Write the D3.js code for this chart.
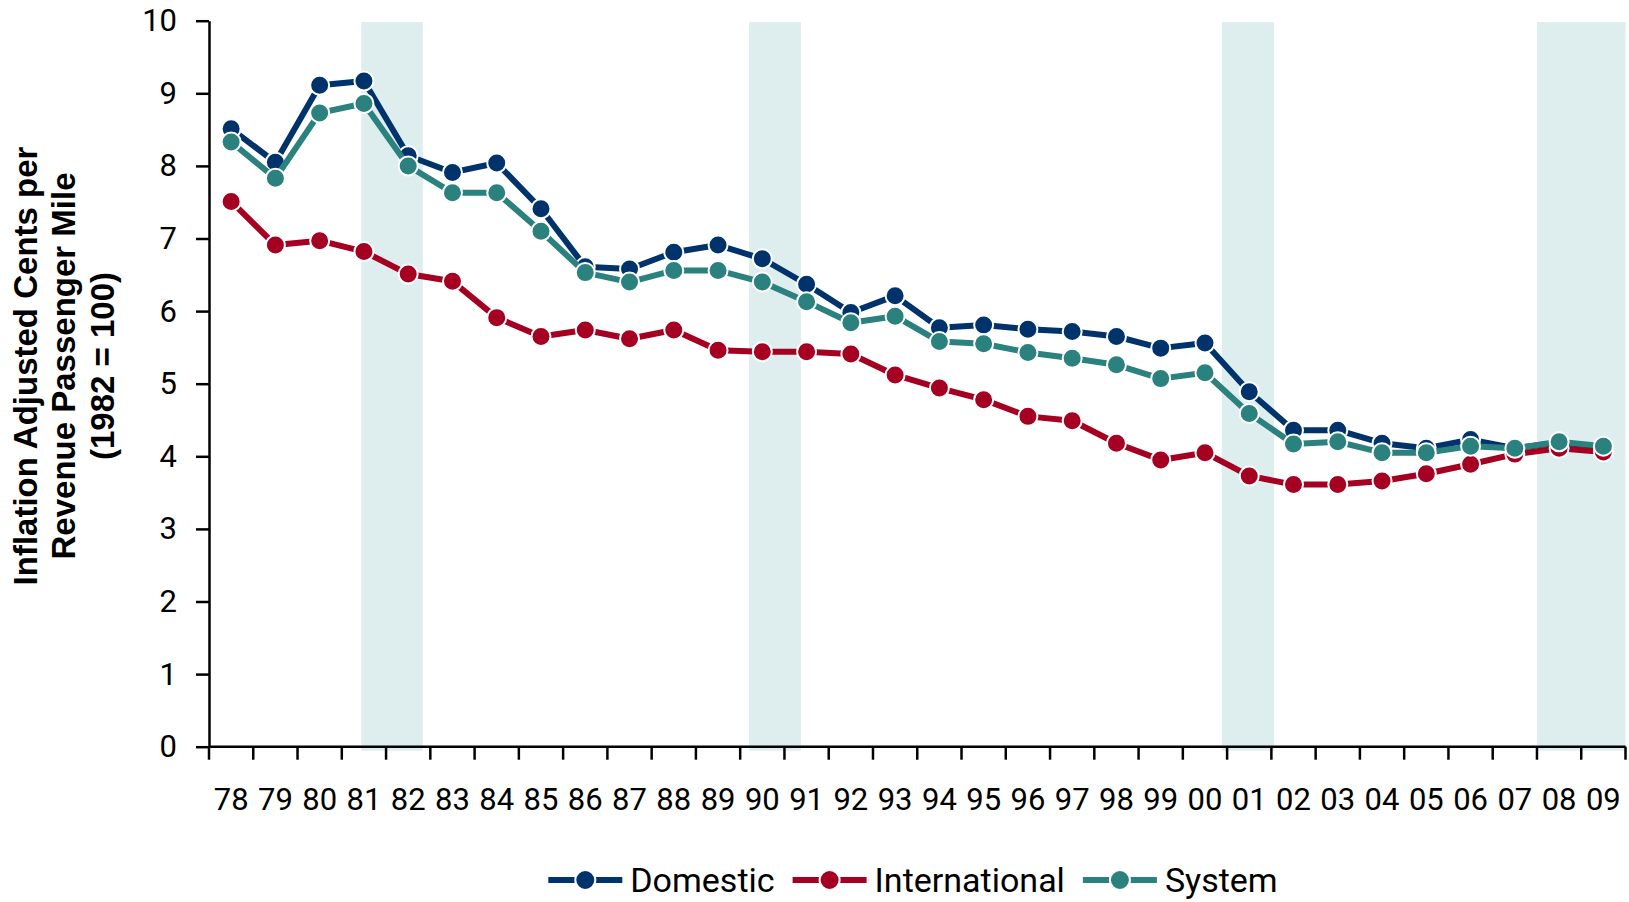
<!DOCTYPE html>
<html lang="en">
<head>
  <meta charset="UTF-8">
  <title>Inflation Adjusted Cents per Revenue Passenger Mile</title>
  <script src="https://d3js.org/d3.v7.min.js"></script>
  <style>
    body { margin: 0; background: #fff; }
    svg text { font-family: Roboto, "Noto Sans", sans-serif; fill: #000; }
  </style>
</head>
<body>
  <div id="chart"></div>
  <script>
    // two-digit year labels, 1978 .. 2009
    var years = ["78", "79", "80", "81", "82", "83", "84", "85", "86", "87", "88", "89",
                 "90", "91", "92", "93", "94", "95", "96", "97", "98", "99",
                 "00", "01", "02", "03", "04", "05", "06", "07", "08", "09"];

    var domestic = [8.51, 8.05, 9.11, 9.17, 8.14, 7.91, 8.04, 7.41, 6.61, 6.58, 6.81, 6.91,
                    6.72, 6.37, 5.98, 6.21, 5.77, 5.81, 5.75, 5.72, 5.65, 5.49,
                    5.56, 4.89, 4.36, 4.36, 4.18, 4.11, 4.23, 4.11, 4.19, 4.13];

    var international = [7.51, 6.91, 6.97, 6.82, 6.51, 6.41, 5.91, 5.65, 5.74, 5.62, 5.74, 5.46,
                         5.44, 5.44, 5.41, 5.12, 4.94, 4.78, 4.55, 4.49, 4.18, 3.95,
                         4.05, 3.73, 3.61, 3.61, 3.66, 3.76, 3.89, 4.03, 4.11, 4.06];

    var system = [8.33, 7.83, 8.73, 8.86, 8.00, 7.63, 7.63, 7.10, 6.53, 6.40, 6.56, 6.56,
                  6.40, 6.13, 5.84, 5.93, 5.58, 5.55, 5.43, 5.35, 5.26, 5.07,
                  5.15, 4.59, 4.17, 4.20, 4.05, 4.05, 4.14, 4.11, 4.20, 4.14];

    // shaded periods, in decimal years
    var recessions = [[1981.44, 1982.83], [1990.2, 1991.37], [2000.88, 2002.06], [2008, 2010]];

    var yTicks = [0, 1, 2, 3, 4, 5, 6, 7, 8, 9, 10];

    var series = [
      { name: "Domestic", values: domestic, color: "#00336b" },
      { name: "International", values: international, color: "#a50021" },
      { name: "System", values: system, color: "#2a817d" }
    ];

    var W = 1629, H = 902;
    var plotLeft = 209, plotRight = 1625.5, plotTop = 20.7, plotBottom = 746.7;

    var svg = d3.select("#chart").append("svg")
      .attr("width", W).attr("height", H);

    var x = d3.scaleBand().domain(years).range([plotLeft, plotRight]).padding(0);
    var xYear = d3.scaleLinear().domain([1978, 2010]).range([plotLeft, plotRight]);
    var y = d3.scaleLinear().domain([0, 10]).range([plotBottom, plotTop]);

    // recession bands
    svg.selectAll("rect.band")
      .data(recessions)
      .enter().append("rect")
        .attr("class", "band")
        .attr("x", function (d) { return xYear(d[0]); })
        .attr("width", function (d) { return xYear(d[1]) - xYear(d[0]); })
        .attr("y", y(9.98))
        .attr("height", y(-0.055) - y(9.98))
        .attr("fill", "#deeeee");

    // y axis
    var yAxis = svg.append("g")
      .attr("transform", "translate(" + plotLeft + ",0)")
      .call(d3.axisLeft(y).tickValues(yTicks).tickSize(13).tickPadding(19).tickSizeOuter(0));
    yAxis.select(".domain").attr("stroke", "#000").attr("stroke-width", 2.5);
    yAxis.selectAll(".tick line").attr("stroke", "#000").attr("stroke-width", 2.5);
    yAxis.selectAll(".tick text")
      .style("font-size", "31px").attr("font-family", null);

    // x axis: ticks on category boundaries, labels in the middle
    var xAxis = svg.append("g")
      .attr("transform", "translate(0," + plotBottom + ")");
    xAxis.append("line")
      .attr("x1", plotLeft).attr("x2", plotRight)
      .attr("stroke", "#000").attr("stroke-width", 2.5);
    xAxis.selectAll("line.tick")
      .data(d3.range(1978, 2011))
      .enter().append("line")
        .attr("class", "tick")
        .attr("x1", function (d) { return xYear(d); })
        .attr("x2", function (d) { return xYear(d); })
        .attr("y1", 0).attr("y2", 13)
        .attr("stroke", "#000").attr("stroke-width", 2.5);
    xAxis.selectAll("text")
      .data(years)
      .enter().append("text")
        .attr("x", function (d) { return x(d) + x.bandwidth() / 2; })
        .attr("y", 63)
        .attr("text-anchor", "middle")
        .style("font-size", "31px")
        .text(function (d) { return d; });

    // lines and markers
    var line = d3.line()
      .x(function (d, i) { return x(years[i]) + x.bandwidth() / 2; })
      .y(function (d) { return y(d); });

    series.forEach(function (s) {
      var g = svg.append("g");
      g.append("path")
        .attr("d", line(s.values))
        .attr("fill", "none")
        .attr("stroke", s.color)
        .attr("stroke-width", 6)
        .attr("stroke-linejoin", "round");
      g.selectAll("circle")
        .data(s.values)
        .enter().append("circle")
          .attr("cx", function (d, i) { return x(years[i]) + x.bandwidth() / 2; })
          .attr("cy", function (d) { return y(d); })
          .attr("r", 9.5)
          .attr("fill", s.color)
          .attr("stroke", "#fff")
          .attr("stroke-width", 2);
    });

    // y axis title
    var title = svg.append("text")
      .attr("transform", "translate(0,366) rotate(-90)")
      .attr("text-anchor", "middle")
      .style("font-family", "'Liberation Sans', Arial, sans-serif")
      .style("font-weight", "bold")
      .style("font-size", "33px");
    ["Inflation Adjusted Cents per", "Revenue Passenger Mile", "(1982 = 100)"].forEach(function (t, i) {
      title.append("tspan").attr("x", 0).attr("y", 36.5 + i * 38.5).text(t);
    });

    // legend
    var legend = svg.append("g");
    var lx = 0;
    series.forEach(function (s, i) {
      var item = legend.append("g").attr("transform", "translate(" + lx + ",0)");
      item.append("line")
        .attr("x1", 0).attr("x2", 74).attr("y1", 0).attr("y2", 0)
        .attr("stroke", s.color).attr("stroke-width", 6);
      item.append("circle")
        .attr("cx", 37).attr("cy", 0).attr("r", 10)
        .attr("fill", s.color).attr("stroke", "#fff").attr("stroke-width", 2);
      var t = item.append("text")
        .attr("x", 82).attr("y", 12)
        .style("font-size", "34px")
        .text(s.name);
      lx += 82 + t.node().getComputedTextLength() + 18;
    });
    lx -= 18;
    legend.attr("transform", "translate(" + (913 - lx / 2) + ",880)");
  </script>
</body>
</html>
